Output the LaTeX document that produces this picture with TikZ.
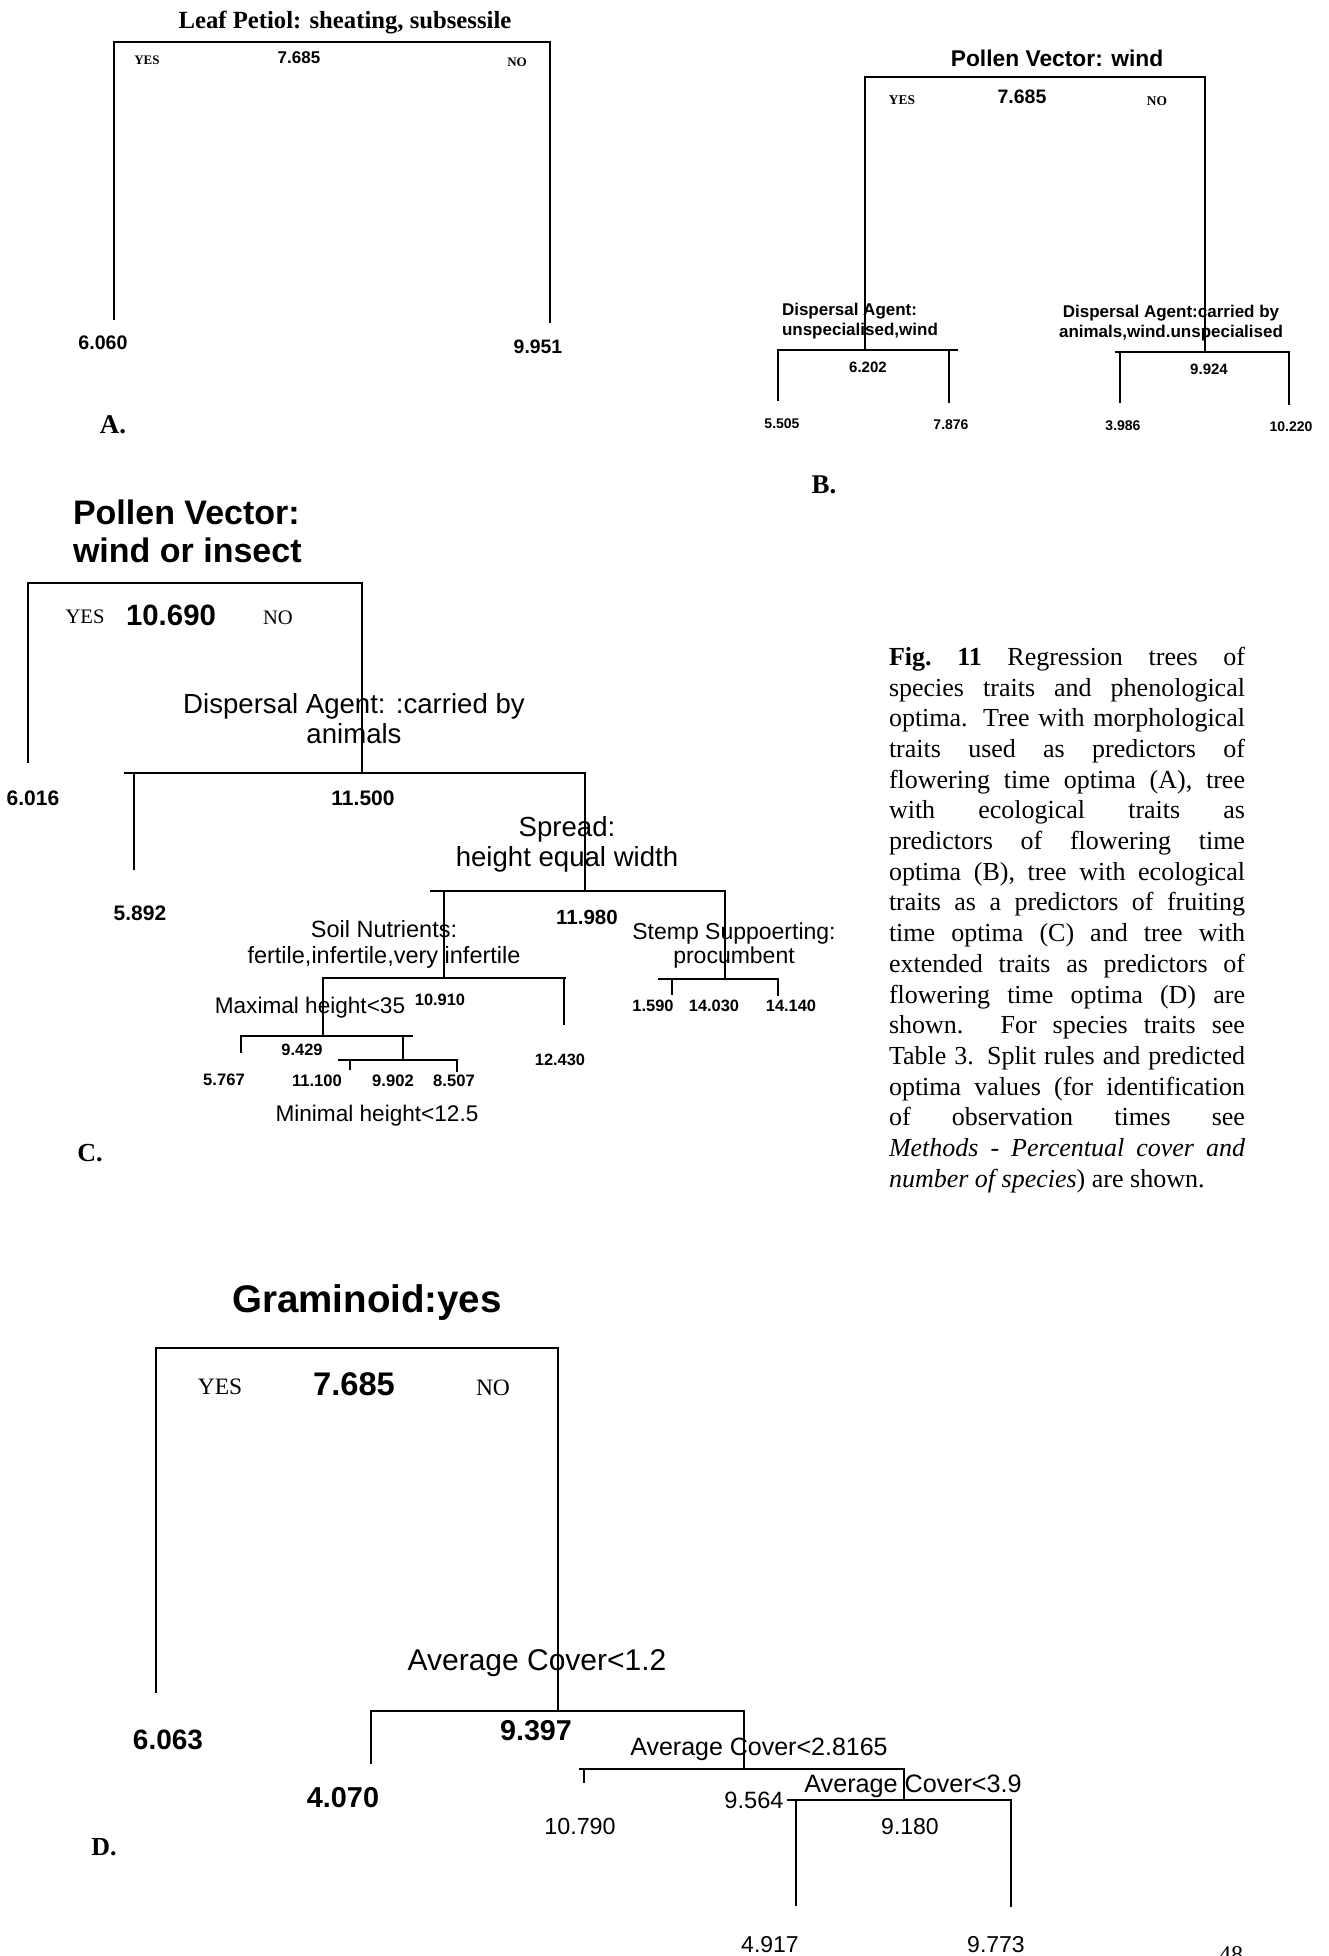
\documentclass[tikz,border=0pt]{standalone}
\usepackage{fontspec}
\setmainfont{Liberation Serif}
\setsansfont{Liberation Sans}
\begin{document}
\begin{tikzpicture}[x=0.5pt,y=-0.5pt,
  every node/.style={inner sep=0pt,outer sep=0pt},
  sb/.style={font=\sffamily\bfseries\fontsize{#1}{#1}\selectfont},
  sr/.style={font=\sffamily\fontsize{#1}{#1}\selectfont},
  tb/.style={font=\rmfamily\bfseries\fontsize{#1}{#1}\selectfont},
  tr/.style={font=\rmfamily\fontsize{#1}{#1}\selectfont},
  branch/.style={line width=0.9pt}]
\fill[white] (0,0) rectangle (1329,1956);
\useasboundingbox (0,0) rectangle (1329,1956);

% ---------------- Panel A ----------------
\node[tb=12.35pt,anchor=base] (aTitle) at (345,28) {Leaf Petiol: sheating, subsessile};
\coordinate (aL0) at (114,320); \coordinate (aL1) at (114,42);
\coordinate (aR1) at (550,42);  \coordinate (aR0) at (550,323);
\draw[branch] (aL0) -- (aL1) -- (aR1) -- (aR0);
\node[tb=6.5pt] (aYes) at (147,60) {YES};
\node[sb=8.5pt] (aVal) at (299,58) {7.685};
\node[tb=6.5pt] (aNo) at (517,62) {NO};
\node[sb=9.8pt] (aLeft) at (103,343) {6.060};
\node[sb=9.7pt] (aRight) at (538,347) {9.951};
\node[tb=13.5pt] (aLab) at (113,425) {A.};

% ---------------- Panel B ----------------
\node[sb=11.4pt] (bTitle) at (1057,58) {Pollen Vector: wind};
\coordinate (bL0) at (865,350); \coordinate (bL1) at (865,77);
\coordinate (bR1) at (1205,77); \coordinate (bR0) at (1205,352);
\draw[branch] (bL0) -- (bL1) -- (bR1) -- (bR0);
\node[tb=6.7pt] (bYes) at (902,100) {YES};
\node[sb=9.75pt] (bVal) at (1022,97) {7.685};
\node[tb=6.7pt] (bNo) at (1157,101) {NO};
\node[anchor=west,align=left,font=\sffamily\bfseries\fontsize{8.5pt}{10pt}\selectfont] (bDL) at (782,321) {Dispersal Agent:\\unspecialised,wind};
\coordinate (bLLt) at (778,350); \coordinate (bLL0) at (778,401);
\coordinate (bLx) at (958,350);
\coordinate (bLRt) at (949,350); \coordinate (bLR0) at (949,403);
\draw[branch] (bLL0) -- (bLLt) -- (bLx);
\draw[branch] (bLRt) -- (bLR0);
\node[sb=7.5pt] (bLv) at (868,367) {6.202};
\node[sb=7pt] (bLa) at (782,424) {5.505};
\node[sb=7pt] (bLb) at (951,425) {7.876};
\node[align=center,font=\sffamily\bfseries\fontsize{8.5pt}{10pt}\selectfont] (bDR) at (1171,323) {Dispersal Agent:carried by\\animals,wind.unspecialised};
\coordinate (bRx) at (1115,352);
\coordinate (bRLt) at (1120,352); \coordinate (bRL0) at (1120,403);
\coordinate (bRRt) at (1289,352); \coordinate (bRR0) at (1289,405);
\draw[branch] (bRx) -- (bRRt) -- (bRR0);
\draw[branch] (bRLt) -- (bRL0);
\node[sb=7.5pt] (bRv) at (1209,369) {9.924};
\node[sb=7pt] (bRa) at (1123,426) {3.986};
\node[sb=7pt] (bRb) at (1291,427) {10.220};
\node[tb=13.5pt] (bLab) at (824,485) {B.};

% ---------------- Panel C ----------------
\node[anchor=west,align=left,font=\sffamily\bfseries\fontsize{17pt}{19pt}\selectfont] (cTitle) at (73,531) {Pollen Vector:\\wind or insect};
\coordinate (cL0) at (28,763); \coordinate (cL1) at (28,583);
\coordinate (cR1) at (362,583); \coordinate (cR0) at (362,773);
\draw[branch] (cL0) -- (cL1) -- (cR1) -- (cR0);
\node[tr=10.3pt] (cYes) at (85,617) {YES};
\node[sb=14.7pt] (cVal) at (171,615) {10.690};
\node[tr=10.3pt] (cNo) at (278,618) {NO};
\node[sb=10.5pt] (cLeft) at (33,798) {6.016};
\node[align=center,font=\sffamily\fontsize{13.8pt}{15pt}\selectfont] (cDisp) at (354,719) {Dispersal Agent: :carried by\\animals};
% split 1
\coordinate (c1x) at (124,773);
\coordinate (c1Lt) at (134,773); \coordinate (c1L0) at (134,870);
\coordinate (c1Rt) at (585,773); \coordinate (c1R0) at (585,891);
\draw[branch] (c1x) -- (c1Rt) -- (c1R0);
\draw[branch] (c1Lt) -- (c1L0);
\node[sb=10.5pt] (c1v) at (363,798) {11.500};
\node[sb=10.5pt] (c1a) at (140,913) {5.892};
% split 2 : spread
\node[align=center,font=\sffamily\fontsize{13.8pt}{15pt}\selectfont] (cSpread) at (567,844) {Spread:\\height equal width};
\coordinate (c2x) at (430,891);
\coordinate (c2Lt) at (444,891); \coordinate (c2L0) at (444,978);
\coordinate (c2Rt) at (725,891); \coordinate (c2R0) at (725,979);
\draw[branch] (c2x) -- (c2Rt) -- (c2R0);
\draw[branch] (c2Lt) -- (c2L0);
\node[sb=10.25pt] (c2v) at (587,917) {11.980};
% split 3 : soil
\node[align=center,font=\sffamily\fontsize{11.75pt}{13pt}\selectfont] (cSoil) at (384,944) {Soil Nutrients:\\fertile,infertile,very infertile};
\coordinate (c3Lt) at (323,978); \coordinate (c3L0) at (323,1036);
\coordinate (c3x) at (566,978);
\coordinate (c3Rt) at (564,978); \coordinate (c3R0) at (564,1025);
\draw[branch] (c3L0) -- (c3Lt) -- (c3x);
\draw[branch] (c3Rt) -- (c3R0);
\node[sb=8.2pt] (c3v) at (440,1000) {10.910};
\node[sb=8.2pt] (c3b) at (560,1060) {12.430};
% split 4 : maximal height
\node[sr=11.3pt] (cMax) at (310,1008) {Maximal height<35};
\coordinate (c4Lt) at (241,1036); \coordinate (c4L0) at (241,1053);
\coordinate (c4x) at (413,1036);
\coordinate (c4Rt) at (403,1036); \coordinate (c4R0) at (403,1060);
\draw[branch] (c4L0) -- (c4Lt) -- (c4x);
\draw[branch] (c4Rt) -- (c4R0);
\node[sb=8.2pt] (c4v) at (302,1050) {9.429};
\node[sb=8.3pt] (c4a) at (224,1080) {5.767};
% split 5 : minimal height
\coordinate (c5x) at (338,1060);
\coordinate (c5Lt) at (350,1060); \coordinate (c5L0) at (350,1070);
\coordinate (c5Rt) at (457,1060); \coordinate (c5R0) at (457,1072);
\draw[branch] (c5x) -- (c5Rt) -- (c5R0);
\draw[branch] (c5Lt) -- (c5L0);
\node[sb=8.3pt] (c5a) at (317,1081) {11.100};
\node[sb=8.3pt] (c5b) at (393,1081) {9.902};
\node[sb=8.3pt] (c5c) at (454,1081) {8.507};
\node[sr=11.3pt] (cMin) at (377,1116) {Minimal height<12.5};
% split 6 : stem
\node[align=center,font=\sffamily\fontsize{11.5pt}{12pt}\selectfont] (cStem) at (734,946) {Stemp Suppoerting:\\procumbent};
\coordinate (c6x) at (658,979);
\coordinate (c6Lt) at (672,979); \coordinate (c6L0) at (672,995);
\coordinate (c6Rt) at (778,979); \coordinate (c6R0) at (778,996);
\draw[branch] (c6x) -- (c6Rt) -- (c6R0);
\draw[branch] (c6Lt) -- (c6L0);
\node[sb=8.2pt] (c6a) at (653,1006) {1.590};
\node[sb=8.2pt] (c6b) at (714,1006) {14.030};
\node[sb=8.2pt] (c6c) at (791,1006) {14.140};
\node[tb=13pt] (cLab) at (90,1153) {C.};

% ---------------- Caption ----------------
\node[anchor=north west,align=left,font=\rmfamily\fontsize{13pt}{15.35pt}\selectfont] (caption) at (889,647) {%
\makebox[178pt][s]{\textbf{Fig.\ 11} Regression trees of}\\
\makebox[178pt][s]{species traits and phenological}\\
\makebox[178pt][s]{optima. Tree with morphological}\\
\makebox[178pt][s]{traits used as predictors of}\\
\makebox[178pt][s]{flowering time optima (A), tree}\\
\makebox[178pt][s]{with ecological traits as}\\
\makebox[178pt][s]{predictors of flowering time}\\
\makebox[178pt][s]{optima (B), tree with ecological}\\
\makebox[178pt][s]{traits as a predictors of fruiting}\\
\makebox[178pt][s]{time optima (C) and tree with}\\
\makebox[178pt][s]{extended traits as predictors of}\\
\makebox[178pt][s]{flowering time optima (D) are}\\
\makebox[178pt][s]{shown. For species traits see}\\
\makebox[178pt][s]{Table 3. Split rules and predicted}\\
\makebox[178pt][s]{optima values (for identification}\\
\makebox[178pt][s]{of observation times see}\\
\makebox[178pt][s]{\itshape Methods - Percentual cover and}\\
\textit{number of species}) are shown.};

% ---------------- Panel D ----------------
\node[sb=19.25pt,anchor=base] (dTitle) at (367,1312) {Graminoid:yes};
\coordinate (dL0) at (156,1693); \coordinate (dL1) at (156,1348);
\coordinate (dR1) at (558,1348); \coordinate (dR0) at (558,1711);
\draw[branch] (dL0) -- (dL1) -- (dR1) -- (dR0);
\node[tr=11.75pt] (dYes) at (220,1387) {YES};
\node[sb=16.35pt] (dVal) at (354,1384) {7.685};
\node[tr=11.75pt] (dNo) at (493,1388) {NO};
\node[sb=14pt] (dLeft) at (168,1740) {6.063};
\node[sr=15pt,anchor=base] (dAv1) at (537,1670) {Average Cover<1.2};
% split 1
\coordinate (d1Lt) at (371,1711); \coordinate (d1L0) at (371,1764);
\coordinate (d1Rt) at (744,1711); \coordinate (d1R0) at (744,1769);
\draw[branch] (d1L0) -- (d1Lt) -- (d1Rt) -- (d1R0);
\node[sb=14.35pt] (d1v) at (536,1731) {9.397};
\node[sb=14.4pt] (d1a) at (343,1798) {4.070};
% split 2
\node[sr=12.5pt,anchor=base] (dAv2) at (759,1755) {Average Cover<2.8165};
\coordinate (d2x) at (579,1769);
\coordinate (d2Lt) at (584,1769); \coordinate (d2L0) at (584,1783);
\coordinate (d2Rt) at (904,1769); \coordinate (d2R0) at (904,1800);
\draw[branch] (d2x) -- (d2Rt) -- (d2R0);
\draw[branch] (d2Lt) -- (d2L0);
\node[sr=11.65pt] (d2a) at (580,1826) {10.790};
% split 3
\node[sr=12.6pt,anchor=base] (dAv3) at (913,1792) {Average Cover<3.9};
\coordinate (d3Lt) at (787,1800);
\coordinate (d3Ld) at (796,1800); \coordinate (d3L0) at (796,1906);
\coordinate (d3Rt) at (1011,1800); \coordinate (d3R0) at (1011,1907);
\draw[branch] (d3Lt) -- (d3Rt) -- (d3R0);
\draw[branch] (d3Ld) -- (d3L0);
\node[sr=11.8pt] (d2v) at (754,1800) {9.564};
\node[sr=11.5pt] (d3v) at (910,1827) {9.180};
\node[sr=11.5pt] (d3a) at (770,1945) {4.917};
\node[sr=11.5pt] (d3b) at (996,1945) {9.773};
\node[tb=13pt] (dLab) at (104,1847) {D.};

% page number (cut off at the bottom edge, as in the reference)
\node[tr=12pt,anchor=base] (pageno) at (1231,1962) {48};
\end{tikzpicture}
\end{document}
